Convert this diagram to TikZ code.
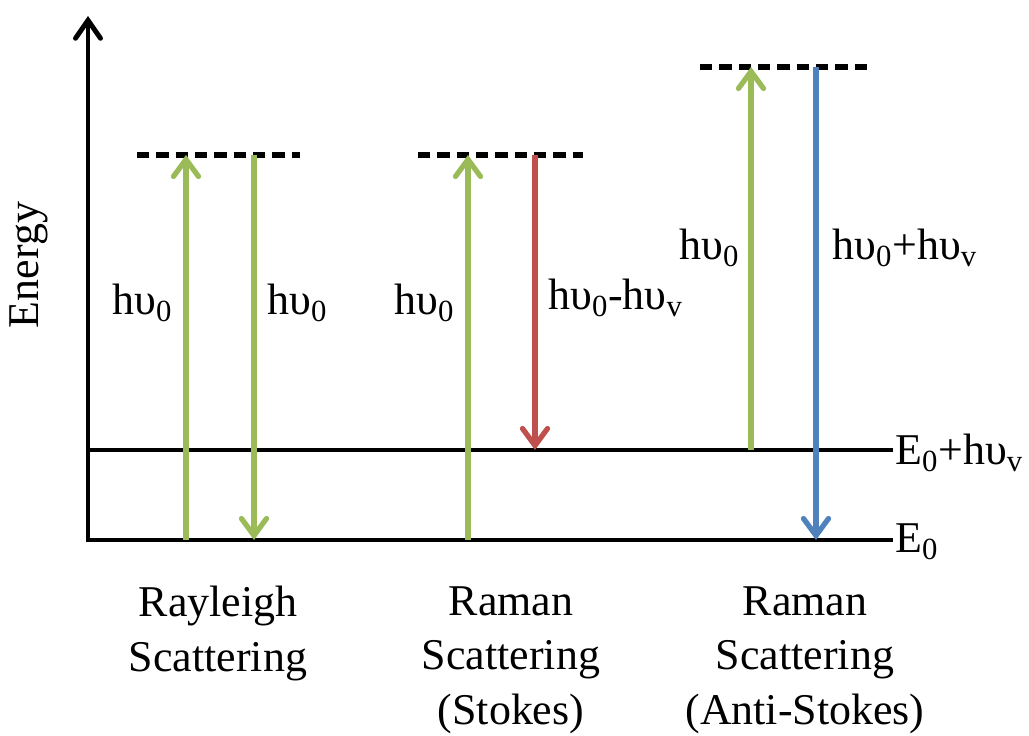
\documentclass[tikz,border=0pt]{standalone}
\usepackage{fontspec}
\setmainfont{LiberationSerif-Regular.ttf}
\usetikzlibrary{arrows.meta}
\definecolor{lgreen}{RGB}{155,187,89}
\definecolor{lred}{RGB}{192,80,77}
\definecolor{lblue}{RGB}{79,129,189}
\newcommand{\hv}[1]{hυ\textsubscript{#1}}

\begin{document}
\begin{tikzpicture}[x=0.02cm,y=-0.02cm,
    font=\rmfamily\fontsize{25}{31}\selectfont,
    level/.style={line width=2.8pt},
    virt/.style={line width=3pt,dash pattern=on 7pt off 4pt},
    photon/.style={line width=3pt,-{Straight Barb[length=3.4mm,width=5mm,line cap=round]}},
    lab/.style={anchor=base west,inner sep=0pt}]
  \useasboundingbox (0,0) rectangle (1029,736);
  \draw[level,{Straight Barb[length=3.6mm,width=5mm,line cap=round]}-] (88,16) -- (88,540) -- (893,540);
  \draw[level] (88,450) -- (893,450);
  \draw[virt] (137,155) -- (300,155);
  \draw[virt] (418,155) -- (583,155);
  \draw[virt] (700,67) -- (868,67);
  \draw[photon,lgreen] (186,540) -- (186,155);
  \draw[photon,lgreen] (254,155) -- (254,540);
  \draw[photon,lgreen] (468,540) -- (468,155);
  \draw[photon,lred] (535,155) -- (535,450);
  \draw[photon,lgreen] (751,450) -- (751,67);
  \draw[photon,lblue] (816,67) -- (816,540);
  \node[rotate=90] (energy) at (29,265) {Energy};
  \node[lab] (l1) at (112,315) {\hv{0}};
  \node[lab] (l2) at (267,315) {\hv{0}};
  \node[lab] (l3) at (394,315) {\hv{0}};
  \node[lab] (l4) at (548,310) {\hv{0}-\hv{v}};
  \node[lab] (l5) at (679,260) {\hv{0}};
  \node[lab] (l6) at (832,260) {\hv{0}+\hv{v}};
  \node[lab] (e1) at (895,465) {E\textsubscript{0}+\hv{v}};
  \node[lab] (e0) at (895,553) {E\textsubscript{0}};
  \node[anchor=north,align=center,inner sep=0pt] (ray) at (218,586) {Rayleigh\\Scattering};
  \node[anchor=north,align=center,inner sep=0pt] (stokes) at (511,586) {Raman\\Scattering\\(Stokes)};
  \node[anchor=north,align=center,inner sep=0pt] (anti) at (805,586) {Raman\\Scattering\\(Anti-Stokes)};
\end{tikzpicture}
\end{document}
